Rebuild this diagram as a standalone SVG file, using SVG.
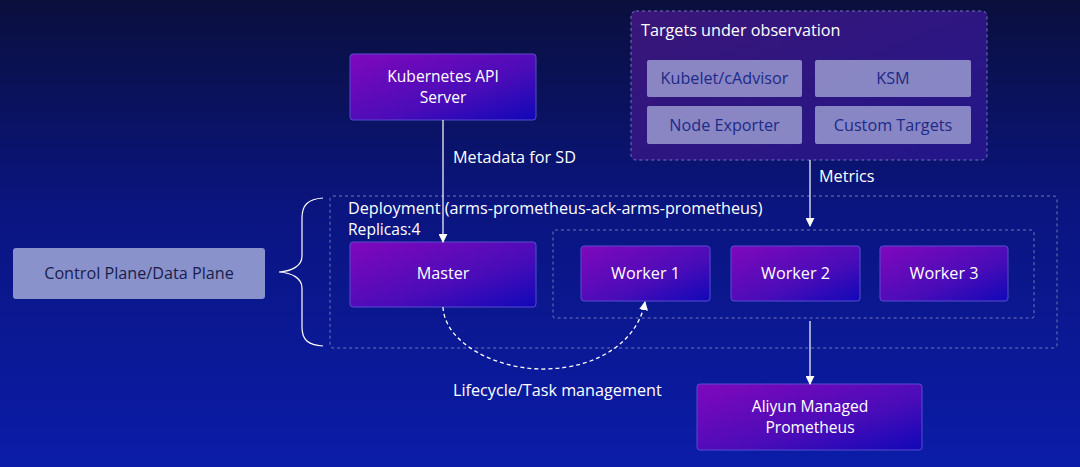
<svg xmlns="http://www.w3.org/2000/svg" width="1080" height="467" viewBox="0 0 1080 467">
<defs>
<linearGradient id="bg" x1="0" y1="0" x2="0" y2="1">
<stop offset="0" stop-color="#0a0f3c"/>
<stop offset="0.45" stop-color="#0a1580"/>
<stop offset="1" stop-color="#0b1ca8"/>
</linearGradient>
<linearGradient id="node" x1="0" y1="0" x2="1" y2="1">
<stop offset="0" stop-color="#8008bc"/>
<stop offset="0.6" stop-color="#4a0cb8"/>
<stop offset="1" stop-color="#1008b8"/>
</linearGradient>
<linearGradient id="tgt" x1="0" y1="0" x2="1" y2="1">
<stop offset="0" stop-color="#3a1678"/>
<stop offset="1" stop-color="#22168a"/>
</linearGradient>
<marker id="arr" viewBox="0 0 10 10" refX="9" refY="5" markerWidth="9" markerHeight="9" markerUnits="userSpaceOnUse" orient="auto">
<path d="M0,0 L10,5 L0,10 z" fill="#ffffff"/>
</marker>
</defs>
<style>
text{font-family:"Open Sans","Noto Sans","DejaVu Sans",sans-serif;font-size:16.2px;fill:#ffffff}
.two{font-size:15.6px}
.mid{text-anchor:middle}
.n{fill:url(#node);stroke:#5a4ad0;stroke-width:1}
.t{fill:#9a9ad0;fill-opacity:0.85;stroke:none}
.tt{fill:#1c2a88}
.dash{fill:none;stroke:#7a82c0;stroke-width:0.9;stroke-dasharray:3 3}
.line{fill:none;stroke:#ffffff;stroke-width:1.2}
</style>
<rect width="1080" height="467" fill="url(#bg)"/>

<g id="targets">
<rect x="631" y="11" width="356" height="149" rx="5" fill="url(#tgt)" stroke="#7a70c0" stroke-dasharray="3 3"/>
<text x="641" y="36">Targets under observation</text>
</g>
<g id="kubelet"><rect class="t" x="647" y="60" width="155" height="37" rx="2"/><text class="mid tt" x="724.5" y="84">Kubelet/cAdvisor</text></g>
<g id="ksm"><rect class="t" x="815" y="60" width="156" height="37" rx="2"/><text class="mid tt" x="893" y="84">KSM</text></g>
<g id="nodeexp"><rect class="t" x="647" y="106" width="155" height="38" rx="2"/><text class="mid tt" x="724.5" y="131">Node Exporter</text></g>
<g id="custom"><rect class="t" x="815" y="106" width="156" height="38" rx="2"/><text class="mid tt" x="893" y="131">Custom Targets</text></g>

<g id="k8sapi"><rect class="n" x="350" y="54" width="186" height="66" rx="3"/><text class="mid two" x="443" y="82">Kubernetes API</text><text class="mid two" x="443" y="103">Server</text></g>

<g id="deployment">
<rect class="dash" x="330" y="196" width="727" height="152" rx="3"/>
<text x="348" y="214">Deployment (arms-prometheus-ack-arms-prometheus)</text>
<text x="348" y="235" class="two">Replicas:4</text>
</g>
<g id="workers"><rect class="dash" x="553" y="230" width="481" height="88" rx="2"/></g>

<g id="master"><rect class="n" x="350" y="242" width="186" height="65" rx="3"/><text class="mid" x="443" y="279">Master</text></g>
<g id="worker1"><rect class="n" x="581" y="246" width="129" height="55" rx="3"/><text class="mid" x="645.5" y="279">Worker 1</text></g>
<g id="worker2"><rect class="n" x="731" y="246" width="129" height="55" rx="3"/><text class="mid" x="795.5" y="279">Worker 2</text></g>
<g id="worker3"><rect class="n" x="880" y="246" width="128" height="55" rx="3"/><text class="mid" x="944" y="279">Worker 3</text></g>

<g id="aliyun"><rect class="n" x="697" y="384" width="225" height="66" rx="3"/><text class="mid two" x="810" y="412">Aliyun Managed</text><text class="mid two" x="810" y="433">Prometheus</text></g>

<g id="plane"><rect x="13" y="248" width="252" height="51" rx="3" fill="#8a92cc"/><text class="mid" x="139" y="279" style="fill:#181c4c">Control Plane/Data Plane</text></g>

<g id="connectors">
<path class="line" d="M443,120 V242" marker-end="url(#arr)"/>
<text x="453" y="163">Metadata for SD</text>
<path class="line" d="M810,160 V226" marker-end="url(#arr)"/>
<text x="819" y="182">Metrics</text>
<path class="line" d="M810,321 V384" marker-end="url(#arr)"/>
<path d="M443,307 C445,345 500,370 545,369 C600,368 638,340 645,302" fill="none" stroke="#ffffff" stroke-width="1.3" stroke-dasharray="4 3" marker-end="url(#arr)"/>
<text x="453" y="396">Lifecycle/Task management</text>
<path class="line" d="M323,198 C308,199 302,205 302,218 V256 C302,266 292,271 279,272 C292,273 302,278 302,288 V327 C302,340 308,345 323,346" stroke-width="1.3"/>
</g>
</svg>
